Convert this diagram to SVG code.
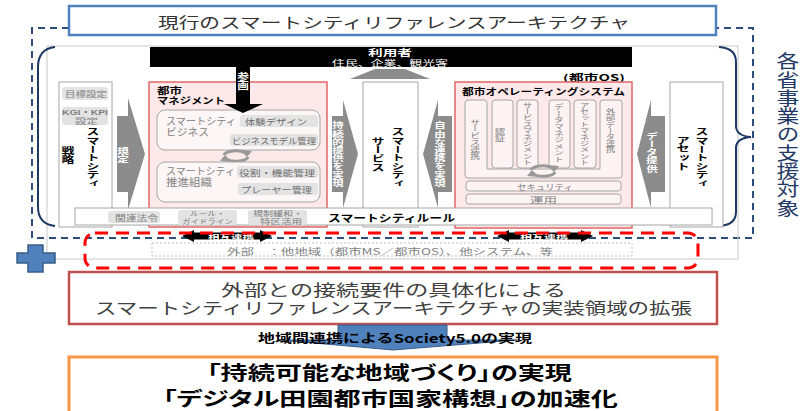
<svg xmlns="http://www.w3.org/2000/svg" width="807" height="411" viewBox="0 0 807 411">
<style>
text{font-family:"Noto Sans CJK JP","Noto Sans",sans-serif;}
.m{font-family:"Liberation Sans","Noto Sans CJK JP",sans-serif;}
.v{writing-mode:vertical-rl;text-anchor:middle;}
.b{font-weight:bold;}
.g{fill:#7f7f7f;}
.dg{fill:#6b6b6b;}
.w{fill:#fff;}
.sub{fill:#e3e3e3;}
.ga{fill:#8c8c8c;}
.pane{fill:#fff;stroke:#a6a6a6;stroke-width:1;}
.inbox{fill:#fdf6f6;stroke:#a6a6a6;stroke-width:1;}
.col{fill:#fdf3f3;stroke:#a6a6a6;stroke-width:1;}
.red{fill:#fde9e9;stroke:#e06666;stroke-width:1.5;}
.brace{fill:none;stroke:#1f3864;stroke-width:2;}
.palt{font-feature-settings:"palt";}
</style>
<defs>
<g id="cycle">
<path d="M-12,-1 A12,5 0 0 1 9,-3.5" fill="none" stroke="#999" stroke-width="3"/>
<polygon points="4,-6 16,-5 11,1" fill="#999"/>
<path d="M12,1 A12,5 0 0 1 -9,3.5" fill="none" stroke="#999" stroke-width="3"/>
<polygon points="-4,6 -16,5 -11,-1" fill="#999"/>
</g>
</defs>
<rect width="807" height="411" fill="#fff"/>

<g id="support-scope">
<path d="M69,28 H32 V238 H753 V28 H716" fill="none" stroke="#2e4f7e" stroke-width="2" stroke-dasharray="7 5"/>
<rect x="47" y="46" width="691" height="213" fill="none" stroke="#c8c8c8" stroke-width="1"/>
<path class="brace" d="M55,47 Q38,49 38,67 L38,207 Q38,224 55,226"/>
<path class="brace" d="M719,47 Q736,48 736,62 L736,127 Q737,136 751,137 Q737,138 736,147 L736,212 Q736,225 719,226"/>
<text class="v" transform="translate(788,134.5) scale(1.25,1)" font-size="18.3" fill="#1f3864">各省事業の支援対象</text>
</g>

<g id="title">
<rect x="69" y="6" width="647" height="29" fill="#fff" stroke="#4f81bd" stroke-width="2.5"/>
<text x="158" y="28" font-size="15" fill="#333" textLength="472" lengthAdjust="spacingAndGlyphs">現行のスマートシティリファレンスアーキテクチャ</text>
</g>

<g id="users">
<rect x="150" y="47" width="482" height="20" fill="#000"/>
<text class="m b w" x="368" y="56" font-size="9" textLength="44" lengthAdjust="spacingAndGlyphs">利用者</text>
<text class="m w" x="332" y="65.5" font-size="8" textLength="116" lengthAdjust="spacingAndGlyphs">住民、企業、観光客</text>
</g>

<g id="strategy">
<rect class="pane" x="59" y="82" width="53" height="145"/>
<rect class="sub" x="62" y="87" width="46" height="13" rx="3"/>
<text class="g" x="65" y="97" font-size="8" textLength="42" lengthAdjust="spacingAndGlyphs">目標設定</text>
<rect class="sub" x="62" y="107" width="46" height="18" rx="3"/>
<text class="m g b" x="62" y="115" font-size="7.5" textLength="46" lengthAdjust="spacingAndGlyphs">KGI・KPI</text>
<text class="m g" x="75" y="123.5" font-size="7.5" textLength="23" lengthAdjust="spacingAndGlyphs">設定</text>
<text class="v b" transform="translate(93,158) scale(1.5,1)" font-size="8.6">スマートシティ</text>
<text class="v b" transform="translate(68,155) scale(1.5,1)" font-size="8.6">戦略</text>
</g>

<g id="city-management">
<rect class="red" x="149" y="82" width="178" height="145"/>
<text class="m b" x="157" y="94" font-size="9" textLength="25" lengthAdjust="spacingAndGlyphs">都市</text>
<text class="m b" x="157" y="104.3" font-size="9" textLength="68" lengthAdjust="spacingAndGlyphs">マネジメント</text>
<rect class="inbox" x="157" y="110" width="163" height="40" rx="8"/>
<text class="m g" x="166" y="124.8" font-size="10" textLength="70" lengthAdjust="spacingAndGlyphs">スマートシティ</text>
<text class="m g" x="166" y="136.3" font-size="10" textLength="43" lengthAdjust="spacingAndGlyphs">ビジネス</text>
<rect class="sub" x="240" y="115" width="78" height="12" rx="3"/>
<text class="dg" x="245" y="124.5" font-size="8.5" textLength="62" lengthAdjust="spacingAndGlyphs">体験デザイン</text>
<rect class="sub" x="230" y="134" width="88" height="12" rx="3"/>
<text class="dg" x="232" y="143.5" font-size="8.5" textLength="84" lengthAdjust="spacingAndGlyphs">ビジネスモデル管理</text>
<use href="#cycle" transform="translate(236,156)"/>
<rect class="inbox" x="157" y="162" width="163" height="40" rx="8"/>
<text class="m g" x="166" y="174.8" font-size="10" textLength="69" lengthAdjust="spacingAndGlyphs">スマートシティ</text>
<text class="m g" x="166" y="186.3" font-size="10" textLength="46" lengthAdjust="spacingAndGlyphs">推進組織</text>
<rect class="sub" x="237" y="166" width="81" height="12" rx="3"/>
<text class="dg" x="239" y="175.5" font-size="8.5" textLength="76" lengthAdjust="spacingAndGlyphs">役割・機能管理</text>
<rect class="sub" x="238" y="183" width="80" height="12" rx="3"/>
<text class="dg" x="241" y="192.5" font-size="8.5" textLength="71" lengthAdjust="spacingAndGlyphs">プレーヤー管理</text>
</g>

<g id="smart-service">
<rect class="pane" x="363" y="82" width="55" height="145"/>
<text class="v b" transform="translate(398,158) scale(1.5,1)" font-size="8.6">スマートシティ</text>
<text class="v b" transform="translate(378,154.5) scale(1.5,1)" font-size="8.8">サービス</text>
</g>

<g id="city-os">
<text class="b" x="563" y="81" font-size="9" textLength="62" lengthAdjust="spacingAndGlyphs">(都市OS)</text>
<rect class="red" x="455" y="82" width="177" height="146"/>
<text class="b" x="462" y="95" font-size="9" textLength="163" lengthAdjust="spacingAndGlyphs">都市オペレーティングシステム</text>
<path class="col" d="M468,100 H484 Q487,100 487,103 V169 H600 V103 Q600,100 603,100 H619 Q622,100 622,103 V175 Q622,178 619,178 H468 Q465,178 465,175 V103 Q465,100 468,100 Z"/>
<rect class="col" x="492" y="100" width="21" height="68" rx="3"/>
<rect class="col" x="517" y="100" width="21" height="68" rx="3"/>
<rect class="col" x="549" y="100" width="21" height="68" rx="3"/>
<rect class="col" x="574" y="100" width="22" height="68" rx="3"/>
<text class="v g" transform="translate(475,139) scale(1.5,1)" font-size="6.8">サービス連携</text>
<text class="v g" transform="translate(500,134.5) scale(1.5,1)" font-size="7">認証</text>
<text class="v g" transform="translate(527.5,134) scale(1.5,1)" font-size="6.4">サービスマネジメント</text>
<text class="v g" transform="translate(559,133) scale(1.5,1)" font-size="6.6">データマネジメント</text>
<text class="v g" transform="translate(584.5,134) scale(1.5,1)" font-size="6.4">アセットマネジメント</text>
<text class="v g" transform="translate(610.5,130.5) scale(1.5,1)" font-size="6.4">外部データ連携</text>
<use href="#cycle" transform="translate(543,171)"/>
<rect class="col" x="466" y="181" width="155" height="10" rx="3"/>
<text class="g" x="517" y="189.5" font-size="8" textLength="56" lengthAdjust="spacingAndGlyphs">セキュリティ</text>
<rect class="col" x="466" y="194" width="155" height="10" rx="3"/>
<text class="g" x="530" y="202.5" font-size="8" textLength="27" lengthAdjust="spacingAndGlyphs">運用</text>
</g>

<g id="smart-asset">
<rect class="pane" x="670" y="82" width="53" height="145"/>
<text class="v b" transform="translate(702,158) scale(1.5,1)" font-size="8.6">スマートシティ</text>
<text class="v b" transform="translate(683,153.5) scale(1.5,1)" font-size="8.8">アセット</text>
</g>

<g id="connectors">
<polygon class="ga" points="350,79 375,69 405,69 430,79"/>
<polygon points="236,67 250,67 250,104 263,104 243,113 224,104 236,104" fill="#000"/>
<text class="v b w" transform="translate(243,81) scale(1.3,1)" font-size="9">参画</text>
<polygon class="ga" points="117,116 128,116 128,98 145,154 128,210 128,192 117,192"/>
<text class="v b w" transform="translate(123,155) scale(1.4,1)" font-size="8.5">規定</text>
<polygon class="ga" points="332,116 343,116 343,100 358,154 343,208 343,192 332,192"/>
<text class="v b w" transform="translate(338,154) scale(1.4,1)" font-size="8.2">持続的提供を実現</text>
<polygon class="ga" points="452,116 438,116 438,100 423,154 438,208 438,192 452,192"/>
<text class="v b w" transform="translate(440,154) scale(1.4,1)" font-size="8.2">自由な連携を実現</text>
<polygon class="ga" points="665,116 651,116 651,100 637,154 651,208 651,192 665,192"/>
<text class="v b w" transform="translate(652,152) scale(1.4,1)" font-size="8.2">データ提供</text>
<polygon points="182,236 194,230 194,232.5 260,232.5 260,230 272,236 260,242 260,239.5 194,239.5 194,242" fill="#000"/>
<text class="b w" x="208" y="238.5" font-size="6" textLength="46" lengthAdjust="spacingAndGlyphs">相互連携</text>
<polygon points="497,236 509,230 509,232.5 581,232.5 581,230 593,236 581,242 581,239.5 509,239.5 509,242" fill="#000"/>
<text class="b w" x="520" y="238.5" font-size="6" textLength="48" lengthAdjust="spacingAndGlyphs">相互連携</text>
</g>

<g id="smart-rule">
<rect class="pane" x="75" y="208" width="637" height="17"/>
<rect class="sub" x="108" y="211" width="52" height="12" rx="3"/>
<text class="g" x="115" y="220.5" font-size="8" textLength="43" lengthAdjust="spacingAndGlyphs">関連法令</text>
<rect class="sub" x="178" y="210" width="59" height="15" rx="3"/>
<text class="m g" x="190" y="215.5" font-size="6.5" textLength="35" lengthAdjust="spacingAndGlyphs">ルール・</text>
<text class="m g" x="182" y="223.8" font-size="6.5" textLength="51" lengthAdjust="spacingAndGlyphs">ガイドライン</text>
<rect class="sub" x="248" y="210" width="59" height="15" rx="3"/>
<text class="m g" x="253" y="215.5" font-size="6.5" textLength="50" lengthAdjust="spacingAndGlyphs">規制緩和・</text>
<text class="m g" x="260" y="223.8" font-size="6.5" textLength="42" lengthAdjust="spacingAndGlyphs">特区活用</text>
<text class="b" x="328" y="222" font-size="10" textLength="127" lengthAdjust="spacingAndGlyphs">スマートシティルール</text>
</g>

<g id="external">
<rect x="152" y="243" width="480" height="13" fill="none" stroke="#c0c0c0" stroke-width="1" stroke-dasharray="2 2"/>
<text class="g" x="227" y="254.5" font-size="9" textLength="326" lengthAdjust="spacingAndGlyphs">外部　：他地域（都市MS／都市OS）、他システム、等</text>
<rect x="85" y="233" width="613" height="35" rx="10" fill="none" stroke="#ff0000" stroke-width="3" stroke-dasharray="13 8"/>
</g>

<g id="plus">
<path d="M28,245 H43 V253 H55 V263 H43 V272 H28 V263 H17 V253 H28 Z" fill="#4f81bd" stroke="#385d8a" stroke-width="1.5"/>
</g>

<g id="expansion">
<rect x="69" y="272" width="648" height="52" fill="#fff" stroke="#c0504d" stroke-width="2.5"/>
<text class="m" x="221" y="295.5" font-size="16" fill="#404040" textLength="345" lengthAdjust="spacingAndGlyphs">外部との接続要件の具体化による</text>
<text class="m" x="95" y="314" font-size="16" fill="#404040" textLength="597" lengthAdjust="spacingAndGlyphs">スマートシティリファレンスアーキテクチャの実装領域の拡張</text>
</g>

<g id="society-arrow">
<polygon points="338,325 447,325 447,340 517,340 393,350 280,340 338,340" fill="#4f81bd" stroke="#385d8a" stroke-width="1"/>
<text class="b" x="258" y="343" font-size="12" textLength="274" lengthAdjust="spacingAndGlyphs">地域間連携によるSociety5.0の実現</text>
</g>

<g id="goal">
<rect x="69" y="357" width="648" height="60" fill="#fff" stroke="#f79646" stroke-width="3"/>
<text class="m b palt" x="207" y="380" font-size="19" textLength="365" lengthAdjust="spacingAndGlyphs">「持続可能な地域づくり」の実現</text>
<text class="m b palt" x="163" y="406" font-size="19" textLength="455" lengthAdjust="spacingAndGlyphs">「デジタル田園都市国家構想」の加速化</text>
</g>
</svg>
